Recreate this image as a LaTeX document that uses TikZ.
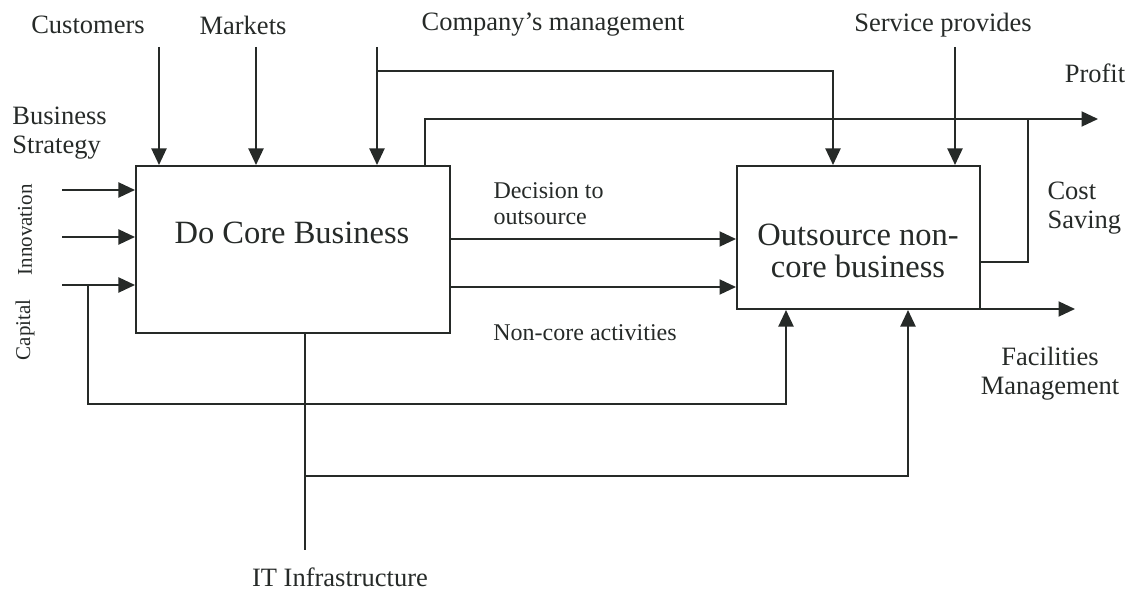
\documentclass[tikz,border=0pt]{standalone}
\usepackage{fontspec}
\setmainfont{Liberation Serif}
\usetikzlibrary{arrows.meta}
\definecolor{inkgray}{RGB}{38,42,40}

\tikzset{
  flow/.style={draw=inkgray, line width=0.8pt, -{Triangle[length=6.6pt,width=6pt]}},
  wire/.style={draw=inkgray, line width=0.8pt},
  activity/.style={draw=inkgray, line width=0.8pt, inner sep=0pt},
  tag/.style={font=\fontsize{10.6}{11.6}\selectfont, inner sep=0pt, text=inkgray},
  sidetag/.style={font=\fontsize{8.4}{10}\selectfont, inner sep=0pt, text=inkgray, rotate=90},
  note/.style={font=\fontsize{9.6}{10.4}\selectfont, inner sep=0pt, text=inkgray, align=left},
  bigtext/.style={font=\fontsize{13}{13}\selectfont, inner sep=0pt, text=inkgray, align=center},
}

\begin{document}
\begin{tikzpicture}[x=0.4pt, y=-0.4pt]
  \useasboundingbox (0,0) rectangle (1130,591);

  %% the two activity boxes
  \node[activity, minimum width=125.6pt, minimum height=66.8pt] (core) at (293,249.5) {};
  \node[bigtext] (coretxt) at (292,233) {Do Core Business};
  \node[activity, minimum width=97.2pt, minimum height=57.2pt] (outs) at (858.5,237.5) {};
  \node[bigtext] (outstxt) at (858,251) {Outsource non-\\core business};

  %% controls from above
  \node[tag] (cust) at (88,25) {Customers};
  \node[tag] (mark) at (243,25) {Markets};
  \node[tag] (mgmt) at (553,25) {Company’s management};
  \node[tag] (serv) at (943,25) {Service provides};
  \coordinate (cust-in) at (159,47);
  \coordinate (mark-in) at (256,47);
  \coordinate (mgmt-in) at (377,47);
  \coordinate (serv-in) at (955,47);
  \draw[flow] (cust-in) -- (cust-in |- core.north);
  \draw[flow] (mark-in) -- (mark-in |- core.north);
  \draw[flow] (mgmt-in) -- (mgmt-in |- core.north);
  \draw[flow] (mgmt-in |- 0,71) -- (833,71) -- (outs.north -| 833,0);
  \draw[flow] (serv-in) -- (serv-in |- outs.north);

  %% inputs on the left
  \node[tag, align=left, anchor=west] (strat) at (12,133) {Business\\Strategy};
  \node[sidetag] (innov) at (25,230) {Innovation};
  \node[sidetag] (capit) at (25,330) {Capital};
  \coordinate (strat-in) at (62,190);
  \coordinate (innov-in) at (62,237);
  \coordinate (capit-in) at (62,285);
  \draw[flow] (strat-in) -- (strat-in -| core.west);
  \draw[flow] (innov-in) -- (innov-in -| core.west);
  \draw[flow] (capit-in) -- (capit-in -| core.west);
  \coordinate (capit-split) at (88,285);
  \draw[flow] (capit-split) -- (88,404) -- (786,404) -- (outs.south -| 786,0);

  %% outputs of the core box
  \node[note, anchor=west] (decide) at (493,204) {Decision to\\outsource};
  \node[note] (noncore) at (585,333) {Non-core activities};
  \draw[flow] (core.east |- 0,239) -- (outs.west |- 0,239);
  \draw[flow] (core.east |- 0,287) -- (outs.west |- 0,287);

  %% profit and cost saving
  \node[tag] (profit) at (1095,73) {Profit};
  \node[tag, align=left, anchor=west] (cost) at (1047,208) {Cost\\Saving};
  \coordinate (profit-out) at (1098,119);
  \draw[flow] (core.north -| 425,0) -- (425,119) -- (profit-out);
  \draw[wire] (outs.east |- 0,262) -- (1028,262) -- (1028,119);

  %% facilities management
  \node[tag, align=center] (facil) at (1050,374) {Facilities\\Management};
  \coordinate (facil-out) at (1075,309);
  \draw[flow] (outs.east |- facil-out) -- (facil-out);

  %% IT infrastructure
  \node[tag] (itinf) at (340,577) {IT Infrastructure};
  \coordinate (it-end) at (305,550);
  \draw[wire] (core.south -| it-end) -- (it-end);
  \draw[flow] (305,476) -- (908,476) -- (outs.south -| 908,0);
\end{tikzpicture}
\end{document}
